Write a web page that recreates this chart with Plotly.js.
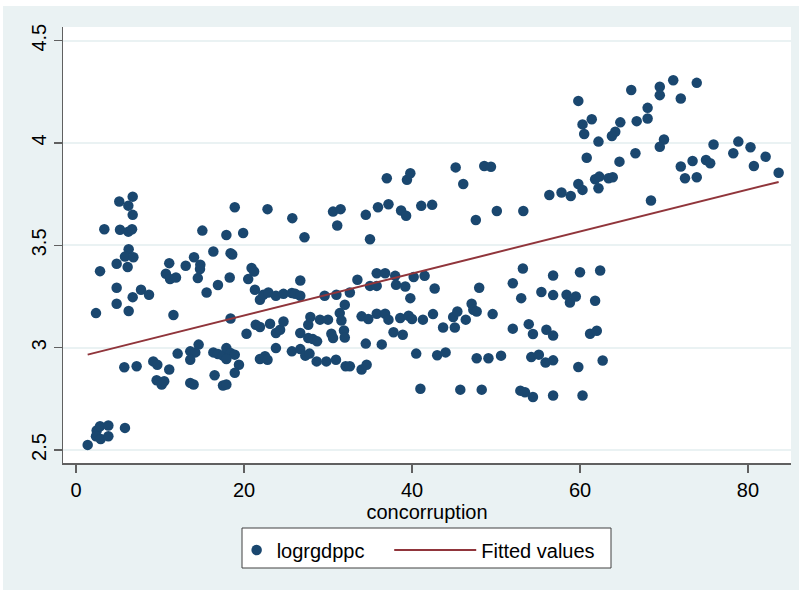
<!DOCTYPE html>
<html>
<head>
<meta charset="utf-8">
<script src="https://cdn.plot.ly/plotly-3.0.1.min.js"></script>
<style>
  html, body { margin: 0; padding: 0; background: #ffffff; width: 799px; height: 590px; overflow: hidden; }
  #chart { position: absolute; left: 3px; top: 6px; width: 796px; height: 584px; }
</style>
</head>
<body>
<div id="chart"></div>
<script>
// concorruption (x) and logrgdppc (y)
const concorruption = [
  1.39, 2.46, 2.86, 3.85, 2.38, 2.94, 3.85, 5.83, 5.15, 6.75, 6.23, 6.75, 3.37, 5.24, 6.23, 6.67, 6.27, 5.83, 6.83, 4.84,
  6.15, 2.86, 4.84, 7.74, 8.69, 6.75, 4.84, 2.38, 6.27, 5.75, 7.22,
  11.1, 10.7, 11.2, 11.9, 13.06, 14.05, 14.8, 14.76, 14.5, 15.04, 16.35, 17.9, 18.4, 18.6, 19.9, 18.9, 16.9, 18.3, 15.55,
  11.6, 18.4, 20.3, 20.5,
  9.2, 9.68, 11.1, 9.6, 10.2, 10.5, 12.1, 13.6, 14.2, 14.6, 13.6, 13.6, 14.0, 16.35, 16.9, 17.5, 17.9, 18.4, 18.9, 17.9,
  19.4, 16.5, 18.9, 17.5, 17.9,
  22.8, 25.75, 27.2, 30.6, 31.5, 31.1, 34.5, 35.0, 35.95, 37.2, 37.0, 39.4, 39.8, 38.7, 39.3, 41.1, 42.4,
  20.9, 21.2, 21.3, 21.9, 22.3, 22.9, 23.8, 24.7, 25.7, 26.1, 26.7, 26.7, 29.6, 31.0, 32.6, 33.5, 32.0, 35.0, 35.8, 35.8,
  36.8, 38.0, 38.1, 39.2, 40.2, 41.5, 39.8,
  21.4, 21.9, 23.1, 23.8, 24.3, 24.7, 26.7, 27.65, 27.9, 29.05, 30.0, 27.65, 28.2, 28.7, 30.4, 30.6, 31.4, 31.6, 31.9, 32.0,
  34.0, 34.8, 35.8, 36.8, 37.2, 37.8, 38.9, 38.6, 39.6, 40.0, 41.3, 34.5, 36.4, 40.5, 41.0,
  21.9, 22.5, 22.8, 23.8, 25.7, 26.7, 27.3, 27.8, 28.65, 29.8, 30.95, 32.1, 32.6, 34.0, 34.6,
  60.5, 62.2, 60.8, 61.8, 62.3, 63.4, 59.8, 60.3, 62.2, 56.35, 57.8, 58.9, 45.2, 48.6, 49.4, 46.1, 47.6, 50.1, 53.25, 59.8,
  61.4, 60.3,
  42.7, 48.0, 53.2, 52.0, 53.0, 56.8, 60.0, 62.4, 55.4, 56.8, 58.4, 58.8, 59.5, 61.8,
  42.5, 43.7, 45.1, 44.9, 45.4, 46.4, 47.1, 47.3, 47.7, 49.6, 52.0, 53.9, 54.4, 56.0, 56.8, 61.2, 62.0,
  43.0, 44.0, 47.7, 49.1, 50.6, 54.2, 55.1, 55.9, 56.8, 59.8, 62.7,
  45.75, 48.3, 52.9, 53.45, 54.4, 56.8, 60.3,
  66.1, 69.5, 69.5, 71.1, 73.9, 72.0, 68.05, 68.05, 66.75, 64.8, 64.2, 63.8, 70.0, 69.5, 66.6, 64.7, 63.9, 68.45, 72.0, 72.5,
  73.4, 73.9, 75.0, 75.5, 75.9, 78.25, 78.85, 80.3, 80.7, 82.1, 83.65
];
const logrgdppc = [
  2.525, 2.595, 2.616, 2.620, 2.567, 2.554, 2.567, 2.608, 3.714, 3.738, 3.694, 3.649, 3.579, 3.576, 3.567, 3.579, 3.481, 3.445, 3.442, 3.410,
  3.394, 3.374, 3.293, 3.283, 3.259, 3.247, 3.215, 3.169, 3.179, 2.904, 2.909,
  3.413, 3.361, 3.335, 3.343, 3.400, 3.442, 3.405, 3.384, 3.340, 3.572, 3.470, 3.551, 3.462, 3.455, 3.560, 3.686, 3.306, 3.343, 3.270,
  3.160, 3.143, 3.068, 3.335,
  2.933, 2.917, 2.893, 2.841, 2.820, 2.836, 2.971, 2.982, 2.977, 3.015, 2.941, 2.828, 2.820, 2.977, 2.969, 2.961, 2.998, 2.974, 2.966, 2.945,
  2.917, 2.865, 2.877, 2.815, 2.820,
  3.677, 3.633, 3.540, 3.665, 3.677, 3.597, 3.649, 3.530, 3.686, 3.701, 3.828, 3.820, 3.852, 3.670, 3.645, 3.693, 3.698,
  3.389, 3.372, 3.283, 3.234, 3.259, 3.270, 3.254, 3.263, 3.267, 3.263, 3.254, 3.328, 3.254, 3.259, 3.270, 3.332, 3.210, 3.302, 3.302, 3.364,
  3.364, 3.351, 3.307, 3.299, 3.345, 3.351, 3.242,
  3.112, 3.101, 3.117, 3.072, 3.088, 3.128, 3.072, 3.112, 3.150, 3.137, 3.137, 3.047, 3.042, 3.031, 3.068, 3.047, 3.169, 3.133, 3.084, 3.050,
  3.153, 3.140, 3.166, 3.166, 3.137, 3.075, 3.063, 3.145, 3.156, 3.140, 3.137, 3.020, 3.016, 2.971, 2.799,
  2.945, 2.958, 2.941, 2.998, 2.982, 2.993, 2.961, 2.971, 2.933, 2.933, 2.941, 2.909, 2.909, 2.893, 2.917,
  4.044, 4.007, 3.928, 3.823, 3.836, 3.828, 3.800, 3.771, 3.779, 3.746, 3.758, 3.741, 3.881, 3.888, 3.884, 3.800, 3.624, 3.668, 3.668, 4.206,
  4.116, 4.091,
  3.289, 3.293, 3.387, 3.315, 3.242, 3.353, 3.369, 3.377, 3.272, 3.257, 3.259, 3.221, 3.250, 3.229,
  3.164, 3.099, 3.099, 3.150, 3.177, 3.137, 3.215, 3.185, 3.177, 3.164, 3.093, 3.115, 3.067, 3.088, 3.059, 3.068, 3.083,
  2.963, 2.977, 2.948, 2.948, 2.961, 2.954, 2.966, 2.928, 2.938, 2.906, 2.937,
  2.795, 2.795, 2.790, 2.782, 2.759, 2.766, 2.766,
  4.259, 4.275, 4.234, 4.307, 4.294, 4.218, 4.172, 4.120, 4.107, 4.101, 4.055, 4.034, 4.017, 3.982, 3.950, 3.909, 3.833, 3.719, 3.885, 3.828,
  3.912, 3.833, 3.917, 3.901, 3.993, 3.950, 4.007, 3.979, 3.888, 3.933, 3.855
];
// Fitted values (linear fit) end points
const fitX = [1.39, 83.65];
const fitY = [2.966, 3.810];

const xTicks = [0, 20, 40, 60, 80];
const yTicks = [2.5, 3, 3.5, 4, 4.5];
const yTickText = ['2.5', '3', '3.5', '4', '4.5'];

const FONT = 'Liberation Sans, Arial, Helvetica, sans-serif';

const traces = [
  {
    type: 'scatter', mode: 'markers', name: 'logrgdppc',
    x: concorruption, y: logrgdppc,
    marker: { color: '#1a476f', size: 10.5, line: { width: 0 } },
    legend: 'legend', cliponaxis: false
  },
  {
    type: 'scatter', mode: 'lines', name: 'Fitted values',
    x: fitX, y: fitY,
    line: { color: '#90353b', width: 2 },
    legend: 'legend2'
  }
];

const layout = {
  width: 796, height: 584,
  margin: { l: 60, r: 8, t: 21, b: 127 },
  paper_bgcolor: '#eaf2f3',
  plot_bgcolor: '#ffffff',
  font: { family: FONT, size: 20, color: '#000000' },
  showlegend: true,
  xaxis: {
    range: [-1.548, 85.12],
    tickvals: xTicks, ticktext: xTicks.map(String),
    ticks: 'outside', ticklen: 8, tickwidth: 1.5, tickcolor: '#606060',
    showline: true, linecolor: '#606060', linewidth: 1.5,
    showgrid: false, zeroline: false,
    tickfont: { family: FONT, size: 20 },
    title: { text: 'concorruption', font: { family: FONT, size: 20 }, standoff: 0 }
  },
  yaxis: {
    range: [2.4365, 4.567],
    tickvals: yTicks, ticktext: yTickText,
    tickangle: -90,
    ticks: 'outside', ticklen: 8, tickwidth: 1.5, tickcolor: '#606060',
    showline: true, linecolor: '#606060', linewidth: 1.5,
    showgrid: true, gridcolor: '#eaf2f3', gridwidth: 2,
    zeroline: false,
    tickfont: { family: FONT, size: 20 }
  },
  legend: {
    orientation: 'h', x: 0.2385, xanchor: 'left', y: -0.155, yanchor: 'top',
    bgcolor: 'rgba(0,0,0,0)', borderwidth: 0, itemwidth: 30,
    font: { family: FONT, size: 20 }
  },
  legend2: {
    orientation: 'h', x: 0.4481, xanchor: 'left', y: -0.155, yanchor: 'top',
    bgcolor: 'rgba(0,0,0,0)', borderwidth: 0, itemwidth: 82,
    font: { family: FONT, size: 20 }
  },
  shapes: [
    { type: 'rect', xref: 'paper', yref: 'paper', layer: 'below',
      x0: (239 - 60) / 728, x1: (608 - 60) / 728,
      y0: (457 - 522) / 436, y1: (457 - 562) / 436,
      fillcolor: '#ffffff', line: { color: '#404040', width: 1 } }
  ]
};

Plotly.newPlot('chart', traces, layout, { displayModeBar: false, staticPlot: true });
</script>
</body>
</html>
